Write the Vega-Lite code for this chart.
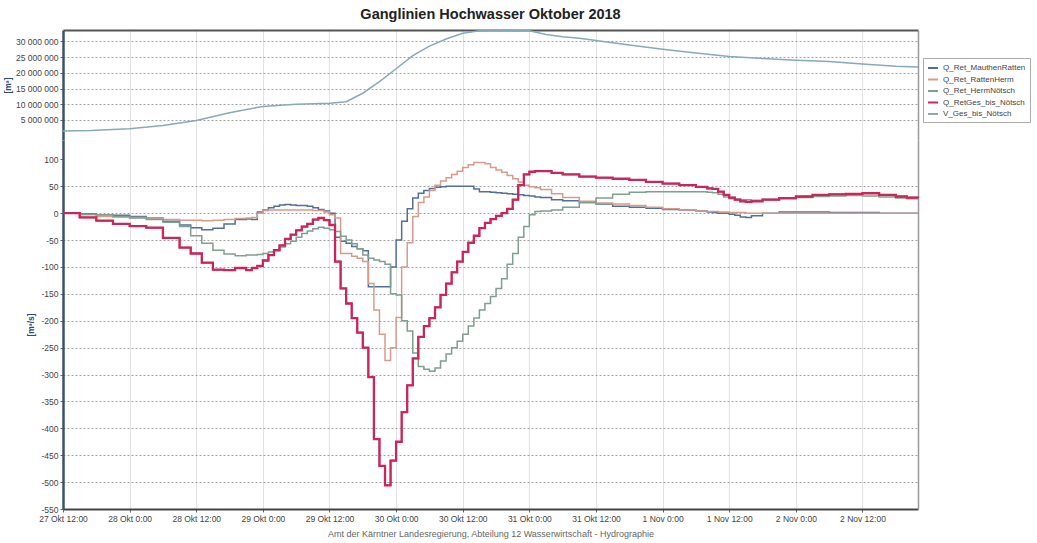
{
"$schema": "https://vega.github.io/schema/vega-lite/v6.json",
"background": "white",
"padding": {"left": 3, "top": 6, "right": 0, "bottom": 0},
"title": {"text": "Ganglinien Hochwasser Oktober 2018", "fontSize": 14.5, "font": "Liberation Sans", "fontWeight": "bold", "color": "#222", "anchor": "middle", "frame": "group", "offset": 5},
"datasets": {
"vol": [
{"s":"V_Ges_bis_Nötsch","t":"2018-10-27T12:00:00Z","v":1500000},
{"s":"V_Ges_bis_Nötsch","t":"2018-10-27T17:00:00Z","v":1600000},
{"s":"V_Ges_bis_Nötsch","t":"2018-10-28T00:00:00Z","v":2200000},
{"s":"V_Ges_bis_Nötsch","t":"2018-10-28T06:00:00Z","v":3200000},
{"s":"V_Ges_bis_Nötsch","t":"2018-10-28T12:00:00Z","v":4800000},
{"s":"V_Ges_bis_Nötsch","t":"2018-10-28T18:00:00Z","v":7300000},
{"s":"V_Ges_bis_Nötsch","t":"2018-10-29T00:00:00Z","v":9300000},
{"s":"V_Ges_bis_Nötsch","t":"2018-10-29T06:00:00Z","v":10000000},
{"s":"V_Ges_bis_Nötsch","t":"2018-10-29T12:00:00Z","v":10300000},
{"s":"V_Ges_bis_Nötsch","t":"2018-10-29T15:00:00Z","v":10800000},
{"s":"V_Ges_bis_Nötsch","t":"2018-10-29T18:00:00Z","v":13500000},
{"s":"V_Ges_bis_Nötsch","t":"2018-10-29T21:00:00Z","v":17200000},
{"s":"V_Ges_bis_Nötsch","t":"2018-10-30T00:00:00Z","v":21300000},
{"s":"V_Ges_bis_Nötsch","t":"2018-10-30T03:00:00Z","v":25500000},
{"s":"V_Ges_bis_Nötsch","t":"2018-10-30T06:00:00Z","v":28500000},
{"s":"V_Ges_bis_Nötsch","t":"2018-10-30T09:00:00Z","v":30800000},
{"s":"V_Ges_bis_Nötsch","t":"2018-10-30T12:00:00Z","v":32600000},
{"s":"V_Ges_bis_Nötsch","t":"2018-10-30T15:00:00Z","v":33400000},
{"s":"V_Ges_bis_Nötsch","t":"2018-10-30T18:00:00Z","v":33550000},
{"s":"V_Ges_bis_Nötsch","t":"2018-10-31T00:00:00Z","v":33400000},
{"s":"V_Ges_bis_Nötsch","t":"2018-10-31T03:00:00Z","v":32200000},
{"s":"V_Ges_bis_Nötsch","t":"2018-10-31T06:00:00Z","v":31500000},
{"s":"V_Ges_bis_Nötsch","t":"2018-10-31T09:00:00Z","v":31000000},
{"s":"V_Ges_bis_Nötsch","t":"2018-10-31T12:00:00Z","v":30300000},
{"s":"V_Ges_bis_Nötsch","t":"2018-10-31T18:00:00Z","v":28900000},
{"s":"V_Ges_bis_Nötsch","t":"2018-11-01T00:00:00Z","v":27500000},
{"s":"V_Ges_bis_Nötsch","t":"2018-11-01T06:00:00Z","v":26300000},
{"s":"V_Ges_bis_Nötsch","t":"2018-11-01T12:00:00Z","v":25200000},
{"s":"V_Ges_bis_Nötsch","t":"2018-11-01T18:00:00Z","v":24600000},
{"s":"V_Ges_bis_Nötsch","t":"2018-11-02T00:00:00Z","v":24000000},
{"s":"V_Ges_bis_Nötsch","t":"2018-11-02T06:00:00Z","v":23600000},
{"s":"V_Ges_bis_Nötsch","t":"2018-11-02T12:00:00Z","v":22800000},
{"s":"V_Ges_bis_Nötsch","t":"2018-11-02T18:00:00Z","v":22100000},
{"s":"V_Ges_bis_Nötsch","t":"2018-11-02T22:00:00Z","v":21900000}
],
"flow": [
{"t":"2018-10-27T12:00:00Z","Q_Ret_MauthenRatten":0,"Q_Ret_RattenHerm":0,"Q_Ret_HermNötsch":0,"Q_RetGes_bis_Nötsch":0},
{"t":"2018-10-27T15:00:00Z","Q_Ret_MauthenRatten":-1,"Q_Ret_RattenHerm":-3,"Q_Ret_HermNötsch":-2,"Q_RetGes_bis_Nötsch":-8},
{"t":"2018-10-27T18:00:00Z","Q_Ret_MauthenRatten":-3,"Q_Ret_RattenHerm":-6,"Q_Ret_HermNötsch":-3,"Q_RetGes_bis_Nötsch":-14},
{"t":"2018-10-27T21:00:00Z","Q_Ret_MauthenRatten":-4,"Q_Ret_RattenHerm":-7,"Q_Ret_HermNötsch":-6,"Q_RetGes_bis_Nötsch":-20},
{"t":"2018-10-28T00:00:00Z","Q_Ret_MauthenRatten":-6,"Q_Ret_RattenHerm":-8,"Q_Ret_HermNötsch":-9,"Q_RetGes_bis_Nötsch":-24},
{"t":"2018-10-28T03:00:00Z","Q_Ret_MauthenRatten":-9,"Q_Ret_RattenHerm":-9,"Q_Ret_HermNötsch":-12,"Q_RetGes_bis_Nötsch":-27},
{"t":"2018-10-28T06:00:00Z","Q_Ret_MauthenRatten":-15,"Q_Ret_RattenHerm":-12,"Q_Ret_HermNötsch":-17,"Q_RetGes_bis_Nötsch":-46},
{"t":"2018-10-28T09:00:00Z","Q_Ret_MauthenRatten":-22,"Q_Ret_RattenHerm":-13,"Q_Ret_HermNötsch":-25,"Q_RetGes_bis_Nötsch":-64},
{"t":"2018-10-28T11:00:00Z","Q_Ret_MauthenRatten":-27,"Q_Ret_RattenHerm":-13,"Q_Ret_HermNötsch":-42,"Q_RetGes_bis_Nötsch":-75},
{"t":"2018-10-28T13:00:00Z","Q_Ret_MauthenRatten":-31,"Q_Ret_RattenHerm":-14,"Q_Ret_HermNötsch":-56,"Q_RetGes_bis_Nötsch":-92},
{"t":"2018-10-28T15:00:00Z","Q_Ret_MauthenRatten":-28,"Q_Ret_RattenHerm":-13,"Q_Ret_HermNötsch":-69,"Q_RetGes_bis_Nötsch":-105},
{"t":"2018-10-28T17:00:00Z","Q_Ret_MauthenRatten":-20,"Q_Ret_RattenHerm":-12,"Q_Ret_HermNötsch":-76,"Q_RetGes_bis_Nötsch":-106},
{"t":"2018-10-28T19:00:00Z","Q_Ret_MauthenRatten":-12,"Q_Ret_RattenHerm":-10,"Q_Ret_HermNötsch":-79,"Q_RetGes_bis_Nötsch":-102},
{"t":"2018-10-28T21:00:00Z","Q_Ret_MauthenRatten":-11,"Q_Ret_RattenHerm":-9,"Q_Ret_HermNötsch":-78,"Q_RetGes_bis_Nötsch":-106},
{"t":"2018-10-28T22:00:00Z","Q_Ret_MauthenRatten":-12,"Q_Ret_RattenHerm":-8,"Q_Ret_HermNötsch":-78,"Q_RetGes_bis_Nötsch":-102},
{"t":"2018-10-28T23:00:00Z","Q_Ret_MauthenRatten":2,"Q_Ret_RattenHerm":0,"Q_Ret_HermNötsch":-77,"Q_RetGes_bis_Nötsch":-98},
{"t":"2018-10-29T00:00:00Z","Q_Ret_MauthenRatten":6,"Q_Ret_RattenHerm":5,"Q_Ret_HermNötsch":-75,"Q_RetGes_bis_Nötsch":-88},
{"t":"2018-10-29T01:00:00Z","Q_Ret_MauthenRatten":10,"Q_Ret_RattenHerm":6,"Q_Ret_HermNötsch":-72,"Q_RetGes_bis_Nötsch":-78},
{"t":"2018-10-29T02:00:00Z","Q_Ret_MauthenRatten":13,"Q_Ret_RattenHerm":6,"Q_Ret_HermNötsch":-69,"Q_RetGes_bis_Nötsch":-69},
{"t":"2018-10-29T03:00:00Z","Q_Ret_MauthenRatten":15,"Q_Ret_RattenHerm":6,"Q_Ret_HermNötsch":-63,"Q_RetGes_bis_Nötsch":-60},
{"t":"2018-10-29T04:00:00Z","Q_Ret_MauthenRatten":16,"Q_Ret_RattenHerm":6,"Q_Ret_HermNötsch":-57,"Q_RetGes_bis_Nötsch":-48},
{"t":"2018-10-29T05:00:00Z","Q_Ret_MauthenRatten":15,"Q_Ret_RattenHerm":6,"Q_Ret_HermNötsch":-52,"Q_RetGes_bis_Nötsch":-40},
{"t":"2018-10-29T06:00:00Z","Q_Ret_MauthenRatten":14,"Q_Ret_RattenHerm":6,"Q_Ret_HermNötsch":-45,"Q_RetGes_bis_Nötsch":-32},
{"t":"2018-10-29T07:00:00Z","Q_Ret_MauthenRatten":14,"Q_Ret_RattenHerm":6,"Q_Ret_HermNötsch":-38,"Q_RetGes_bis_Nötsch":-25},
{"t":"2018-10-29T08:00:00Z","Q_Ret_MauthenRatten":13,"Q_Ret_RattenHerm":6,"Q_Ret_HermNötsch":-33,"Q_RetGes_bis_Nötsch":-20},
{"t":"2018-10-29T09:00:00Z","Q_Ret_MauthenRatten":10,"Q_Ret_RattenHerm":5,"Q_Ret_HermNötsch":-29,"Q_RetGes_bis_Nötsch":-12},
{"t":"2018-10-29T10:00:00Z","Q_Ret_MauthenRatten":7,"Q_Ret_RattenHerm":5,"Q_Ret_HermNötsch":-26,"Q_RetGes_bis_Nötsch":-9},
{"t":"2018-10-29T11:00:00Z","Q_Ret_MauthenRatten":4,"Q_Ret_RattenHerm":2,"Q_Ret_HermNötsch":-28,"Q_RetGes_bis_Nötsch":-13},
{"t":"2018-10-29T12:00:00Z","Q_Ret_MauthenRatten":0,"Q_Ret_RattenHerm":-3,"Q_Ret_HermNötsch":-31,"Q_RetGes_bis_Nötsch":-22},
{"t":"2018-10-29T13:00:00Z","Q_Ret_MauthenRatten":-45,"Q_Ret_RattenHerm":-9,"Q_Ret_HermNötsch":-34,"Q_RetGes_bis_Nötsch":-90},
{"t":"2018-10-29T14:00:00Z","Q_Ret_MauthenRatten":-52,"Q_Ret_RattenHerm":-75,"Q_Ret_HermNötsch":-43,"Q_RetGes_bis_Nötsch":-140},
{"t":"2018-10-29T15:00:00Z","Q_Ret_MauthenRatten":-56,"Q_Ret_RattenHerm":-75,"Q_Ret_HermNötsch":-50,"Q_RetGes_bis_Nötsch":-168},
{"t":"2018-10-29T16:00:00Z","Q_Ret_MauthenRatten":-62,"Q_Ret_RattenHerm":-80,"Q_Ret_HermNötsch":-57,"Q_RetGes_bis_Nötsch":-195},
{"t":"2018-10-29T17:00:00Z","Q_Ret_MauthenRatten":-66,"Q_Ret_RattenHerm":-84,"Q_Ret_HermNötsch":-66,"Q_RetGes_bis_Nötsch":-222},
{"t":"2018-10-29T18:00:00Z","Q_Ret_MauthenRatten":-70,"Q_Ret_RattenHerm":-90,"Q_Ret_HermNötsch":-78,"Q_RetGes_bis_Nötsch":-250},
{"t":"2018-10-29T19:00:00Z","Q_Ret_MauthenRatten":-137,"Q_Ret_RattenHerm":-131,"Q_Ret_HermNötsch":-84,"Q_RetGes_bis_Nötsch":-305},
{"t":"2018-10-29T20:00:00Z","Q_Ret_MauthenRatten":-137,"Q_Ret_RattenHerm":-180,"Q_Ret_HermNötsch":-87,"Q_RetGes_bis_Nötsch":-420},
{"t":"2018-10-29T21:00:00Z","Q_Ret_MauthenRatten":-137,"Q_Ret_RattenHerm":-225,"Q_Ret_HermNötsch":-90,"Q_RetGes_bis_Nötsch":-470},
{"t":"2018-10-29T22:00:00Z","Q_Ret_MauthenRatten":-137,"Q_Ret_RattenHerm":-274,"Q_Ret_HermNötsch":-95,"Q_RetGes_bis_Nötsch":-506},
{"t":"2018-10-29T23:00:00Z","Q_Ret_MauthenRatten":-100,"Q_Ret_RattenHerm":-250,"Q_Ret_HermNötsch":-150,"Q_RetGes_bis_Nötsch":-460},
{"t":"2018-10-30T00:00:00Z","Q_Ret_MauthenRatten":-50,"Q_Ret_RattenHerm":-194,"Q_Ret_HermNötsch":-152,"Q_RetGes_bis_Nötsch":-425},
{"t":"2018-10-30T01:00:00Z","Q_Ret_MauthenRatten":-15,"Q_Ret_RattenHerm":-100,"Q_Ret_HermNötsch":-200,"Q_RetGes_bis_Nötsch":-370},
{"t":"2018-10-30T02:00:00Z","Q_Ret_MauthenRatten":8,"Q_Ret_RattenHerm":-55,"Q_Ret_HermNötsch":-219,"Q_RetGes_bis_Nötsch":-320},
{"t":"2018-10-30T03:00:00Z","Q_Ret_MauthenRatten":28,"Q_Ret_RattenHerm":-6,"Q_Ret_HermNötsch":-260,"Q_RetGes_bis_Nötsch":-270},
{"t":"2018-10-30T04:00:00Z","Q_Ret_MauthenRatten":37,"Q_Ret_RattenHerm":20,"Q_Ret_HermNötsch":-285,"Q_RetGes_bis_Nötsch":-230},
{"t":"2018-10-30T05:00:00Z","Q_Ret_MauthenRatten":42,"Q_Ret_RattenHerm":30,"Q_Ret_HermNötsch":-290,"Q_RetGes_bis_Nötsch":-210},
{"t":"2018-10-30T06:00:00Z","Q_Ret_MauthenRatten":46,"Q_Ret_RattenHerm":42,"Q_Ret_HermNötsch":-294,"Q_RetGes_bis_Nötsch":-195},
{"t":"2018-10-30T07:00:00Z","Q_Ret_MauthenRatten":48,"Q_Ret_RattenHerm":52,"Q_Ret_HermNötsch":-288,"Q_RetGes_bis_Nötsch":-175},
{"t":"2018-10-30T08:00:00Z","Q_Ret_MauthenRatten":49,"Q_Ret_RattenHerm":60,"Q_Ret_HermNötsch":-275,"Q_RetGes_bis_Nötsch":-152},
{"t":"2018-10-30T09:00:00Z","Q_Ret_MauthenRatten":50,"Q_Ret_RattenHerm":66,"Q_Ret_HermNötsch":-262,"Q_RetGes_bis_Nötsch":-131},
{"t":"2018-10-30T10:00:00Z","Q_Ret_MauthenRatten":50,"Q_Ret_RattenHerm":72,"Q_Ret_HermNötsch":-250,"Q_RetGes_bis_Nötsch":-110},
{"t":"2018-10-30T11:00:00Z","Q_Ret_MauthenRatten":50,"Q_Ret_RattenHerm":78,"Q_Ret_HermNötsch":-238,"Q_RetGes_bis_Nötsch":-90},
{"t":"2018-10-30T12:00:00Z","Q_Ret_MauthenRatten":50,"Q_Ret_RattenHerm":85,"Q_Ret_HermNötsch":-225,"Q_RetGes_bis_Nötsch":-72},
{"t":"2018-10-30T13:00:00Z","Q_Ret_MauthenRatten":50,"Q_Ret_RattenHerm":90,"Q_Ret_HermNötsch":-210,"Q_RetGes_bis_Nötsch":-55},
{"t":"2018-10-30T14:00:00Z","Q_Ret_MauthenRatten":45,"Q_Ret_RattenHerm":94,"Q_Ret_HermNötsch":-195,"Q_RetGes_bis_Nötsch":-42},
{"t":"2018-10-30T15:00:00Z","Q_Ret_MauthenRatten":40,"Q_Ret_RattenHerm":94,"Q_Ret_HermNötsch":-180,"Q_RetGes_bis_Nötsch":-28},
{"t":"2018-10-30T16:00:00Z","Q_Ret_MauthenRatten":40,"Q_Ret_RattenHerm":92,"Q_Ret_HermNötsch":-168,"Q_RetGes_bis_Nötsch":-18},
{"t":"2018-10-30T17:00:00Z","Q_Ret_MauthenRatten":39,"Q_Ret_RattenHerm":85,"Q_Ret_HermNötsch":-155,"Q_RetGes_bis_Nötsch":-11},
{"t":"2018-10-30T18:00:00Z","Q_Ret_MauthenRatten":38,"Q_Ret_RattenHerm":80,"Q_Ret_HermNötsch":-140,"Q_RetGes_bis_Nötsch":-5},
{"t":"2018-10-30T19:00:00Z","Q_Ret_MauthenRatten":37,"Q_Ret_RattenHerm":76,"Q_Ret_HermNötsch":-122,"Q_RetGes_bis_Nötsch":0},
{"t":"2018-10-30T20:00:00Z","Q_Ret_MauthenRatten":36,"Q_Ret_RattenHerm":70,"Q_Ret_HermNötsch":-95,"Q_RetGes_bis_Nötsch":8},
{"t":"2018-10-30T21:00:00Z","Q_Ret_MauthenRatten":35,"Q_Ret_RattenHerm":64,"Q_Ret_HermNötsch":-75,"Q_RetGes_bis_Nötsch":25},
{"t":"2018-10-30T22:00:00Z","Q_Ret_MauthenRatten":34,"Q_Ret_RattenHerm":58,"Q_Ret_HermNötsch":-45,"Q_RetGes_bis_Nötsch":52},
{"t":"2018-10-30T23:00:00Z","Q_Ret_MauthenRatten":33,"Q_Ret_RattenHerm":52,"Q_Ret_HermNötsch":-25,"Q_RetGes_bis_Nötsch":72},
{"t":"2018-10-31T00:00:00Z","Q_Ret_MauthenRatten":32,"Q_Ret_RattenHerm":49,"Q_Ret_HermNötsch":-3,"Q_RetGes_bis_Nötsch":77},
{"t":"2018-10-31T01:00:00Z","Q_Ret_MauthenRatten":30,"Q_Ret_RattenHerm":47,"Q_Ret_HermNötsch":3,"Q_RetGes_bis_Nötsch":78},
{"t":"2018-10-31T02:00:00Z","Q_Ret_MauthenRatten":29,"Q_Ret_RattenHerm":44,"Q_Ret_HermNötsch":4,"Q_RetGes_bis_Nötsch":78},
{"t":"2018-10-31T04:00:00Z","Q_Ret_MauthenRatten":25,"Q_Ret_RattenHerm":36,"Q_Ret_HermNötsch":6,"Q_RetGes_bis_Nötsch":75},
{"t":"2018-10-31T06:00:00Z","Q_Ret_MauthenRatten":23,"Q_Ret_RattenHerm":29,"Q_Ret_HermNötsch":11,"Q_RetGes_bis_Nötsch":72},
{"t":"2018-10-31T09:00:00Z","Q_Ret_MauthenRatten":20,"Q_Ret_RattenHerm":22,"Q_Ret_HermNötsch":20,"Q_RetGes_bis_Nötsch":68},
{"t":"2018-10-31T12:00:00Z","Q_Ret_MauthenRatten":17,"Q_Ret_RattenHerm":19,"Q_Ret_HermNötsch":28,"Q_RetGes_bis_Nötsch":66},
{"t":"2018-10-31T15:00:00Z","Q_Ret_MauthenRatten":13,"Q_Ret_RattenHerm":17,"Q_Ret_HermNötsch":35,"Q_RetGes_bis_Nötsch":64},
{"t":"2018-10-31T18:00:00Z","Q_Ret_MauthenRatten":11,"Q_Ret_RattenHerm":14,"Q_Ret_HermNötsch":39,"Q_RetGes_bis_Nötsch":62},
{"t":"2018-10-31T21:00:00Z","Q_Ret_MauthenRatten":9,"Q_Ret_RattenHerm":11,"Q_Ret_HermNötsch":40,"Q_RetGes_bis_Nötsch":58},
{"t":"2018-11-01T00:00:00Z","Q_Ret_MauthenRatten":7,"Q_Ret_RattenHerm":8,"Q_Ret_HermNötsch":40,"Q_RetGes_bis_Nötsch":55},
{"t":"2018-11-01T03:00:00Z","Q_Ret_MauthenRatten":6,"Q_Ret_RattenHerm":6,"Q_Ret_HermNötsch":40,"Q_RetGes_bis_Nötsch":52},
{"t":"2018-11-01T06:00:00Z","Q_Ret_MauthenRatten":4,"Q_Ret_RattenHerm":4,"Q_Ret_HermNötsch":40,"Q_RetGes_bis_Nötsch":49},
{"t":"2018-11-01T08:00:00Z","Q_Ret_MauthenRatten":2,"Q_Ret_RattenHerm":3,"Q_Ret_HermNötsch":39,"Q_RetGes_bis_Nötsch":46},
{"t":"2018-11-01T09:00:00Z","Q_Ret_MauthenRatten":1,"Q_Ret_RattenHerm":3,"Q_Ret_HermNötsch":38,"Q_RetGes_bis_Nötsch":45},
{"t":"2018-11-01T10:00:00Z","Q_Ret_MauthenRatten":0,"Q_Ret_RattenHerm":2,"Q_Ret_HermNötsch":35,"Q_RetGes_bis_Nötsch":40},
{"t":"2018-11-01T11:00:00Z","Q_Ret_MauthenRatten":0,"Q_Ret_RattenHerm":2,"Q_Ret_HermNötsch":30,"Q_RetGes_bis_Nötsch":34},
{"t":"2018-11-01T12:00:00Z","Q_Ret_MauthenRatten":-2,"Q_Ret_RattenHerm":1,"Q_Ret_HermNötsch":27,"Q_RetGes_bis_Nötsch":29},
{"t":"2018-11-01T13:00:00Z","Q_Ret_MauthenRatten":-4,"Q_Ret_RattenHerm":1,"Q_Ret_HermNötsch":26,"Q_RetGes_bis_Nötsch":25},
{"t":"2018-11-01T14:00:00Z","Q_Ret_MauthenRatten":-7,"Q_Ret_RattenHerm":1,"Q_Ret_HermNötsch":25,"Q_RetGes_bis_Nötsch":22},
{"t":"2018-11-01T15:00:00Z","Q_Ret_MauthenRatten":-8,"Q_Ret_RattenHerm":0,"Q_Ret_HermNötsch":25,"Q_RetGes_bis_Nötsch":21},
{"t":"2018-11-01T16:00:00Z","Q_Ret_MauthenRatten":-5,"Q_Ret_RattenHerm":0,"Q_Ret_HermNötsch":24,"Q_RetGes_bis_Nötsch":22},
{"t":"2018-11-01T18:00:00Z","Q_Ret_MauthenRatten":0,"Q_Ret_RattenHerm":0,"Q_Ret_HermNötsch":26,"Q_RetGes_bis_Nötsch":25},
{"t":"2018-11-01T21:00:00Z","Q_Ret_MauthenRatten":2,"Q_Ret_RattenHerm":0,"Q_Ret_HermNötsch":27,"Q_RetGes_bis_Nötsch":28},
{"t":"2018-11-02T00:00:00Z","Q_Ret_MauthenRatten":2,"Q_Ret_RattenHerm":0,"Q_Ret_HermNötsch":29,"Q_RetGes_bis_Nötsch":31},
{"t":"2018-11-02T03:00:00Z","Q_Ret_MauthenRatten":2,"Q_Ret_RattenHerm":0,"Q_Ret_HermNötsch":31,"Q_RetGes_bis_Nötsch":34},
{"t":"2018-11-02T06:00:00Z","Q_Ret_MauthenRatten":1,"Q_Ret_RattenHerm":0,"Q_Ret_HermNötsch":32,"Q_RetGes_bis_Nötsch":35},
{"t":"2018-11-02T09:00:00Z","Q_Ret_MauthenRatten":1,"Q_Ret_RattenHerm":0,"Q_Ret_HermNötsch":33,"Q_RetGes_bis_Nötsch":36},
{"t":"2018-11-02T12:00:00Z","Q_Ret_MauthenRatten":1,"Q_Ret_RattenHerm":0,"Q_Ret_HermNötsch":32,"Q_RetGes_bis_Nötsch":37},
{"t":"2018-11-02T15:00:00Z","Q_Ret_MauthenRatten":0,"Q_Ret_RattenHerm":0,"Q_Ret_HermNötsch":30,"Q_RetGes_bis_Nötsch":34},
{"t":"2018-11-02T18:00:00Z","Q_Ret_MauthenRatten":0,"Q_Ret_RattenHerm":0,"Q_Ret_HermNötsch":28,"Q_RetGes_bis_Nötsch":31},
{"t":"2018-11-02T20:00:00Z","Q_Ret_MauthenRatten":0,"Q_Ret_RattenHerm":0,"Q_Ret_HermNötsch":27,"Q_RetGes_bis_Nötsch":29},
{"t":"2018-11-02T22:00:00Z","Q_Ret_MauthenRatten":0,"Q_Ret_RattenHerm":0,"Q_Ret_HermNötsch":26,"Q_RetGes_bis_Nötsch":28}
]
},
"vconcat": [
{
"width": 855, "height": 110,
"data": {"name": "vol"},
"layer": [
{
"mark": {"type": "line", "strokeWidth": 1.5},
"encoding": {
"x": {"field": "t", "type": "temporal", "scale": {"type": "utc", "domain": ["2018-10-27T12:00:00Z", "2018-11-02T22:00:00Z"]}, "axis": {"orient": "top", "labels": false, "ticks": false, "title": null, "domain": true, "domainColor": "#555", "domainWidth": 2, "grid": true, "tickCount": 13}},
"y": {"field": "v", "type": "quantitative", "scale": {"domain": [-1400000, 33650000], "nice": false, "zero": false}, "axis": {"values": [5000000, 10000000, 15000000, 20000000, 25000000, 30000000], "labelExpr": "replace(format(datum.value, ','), /,/g, ' ')", "title": "[m³]", "titlePadding": 3}},
"color": {"field": "s", "type": "nominal", "scale": {"domain": ["Q_Ret_MauthenRatten", "Q_Ret_RattenHerm", "Q_Ret_HermNötsch", "Q_RetGes_bis_Nötsch", "V_Ges_bis_Nötsch"], "range": ["#50709a", "#d79b8c", "#7f9f8f", "#c9265a", "#86aab8"]}, "legend": {"title": null, "orient": "none", "legendX": 860, "legendY": 28}}
}
},
{
"mark": {"type": "line", "opacity": 0},
"encoding": {
"x": {"field": "t", "type": "temporal", "scale": {"type": "utc", "domain": ["2018-10-27T12:00:00Z", "2018-11-02T22:00:00Z"]}},
"y": {"field": "v", "type": "quantitative", "scale": {"domain": [-1400000, 33650000], "nice": false, "zero": false}, "axis": {"orient": "right", "labels": false, "ticks": false, "grid": false, "title": null, "domainColor": "#999", "domainWidth": 1.5}}
}
}
],
"resolve": {"axis": {"y": "independent"}}
},
{
"width": 855, "height": 369,
"data": {"name": "flow"},
"transform": [{"fold": ["Q_Ret_MauthenRatten", "Q_Ret_RattenHerm", "Q_Ret_HermNötsch", "Q_RetGes_bis_Nötsch"], "as": ["s", "q"]}],
"layer": [
{
"mark": {"type": "line", "interpolate": "step-after", "strokeWidth": 1.5},
"encoding": {
"x": {"field": "t", "type": "temporal", "scale": {"type": "utc", "domain": ["2018-10-27T12:00:00Z", "2018-11-02T22:00:00Z"]}, "axis": {"orient": "bottom", "tickCount": 13, "labelExpr": "utcdate(datum.value) + (utcmonth(datum.value) == 9 ? ' Okt ' : ' Nov ') + utchours(datum.value) + ':00'", "labelOverlap": false, "labelFlush": false, "grid": true, "domainColor": "#444", "domainWidth": 2, "title": "Amt der Kärntner Landesregierung, Abteilung 12 Wasserwirtschaft - Hydrographie", "titleFontSize": 9, "titleFontWeight": "normal", "titleColor": "#666", "titlePadding": 7}},
"y": {"field": "q", "type": "quantitative", "scale": {"domain": [-550, 136], "nice": false, "zero": false}, "axis": {"values": [-550, -500, -450, -400, -350, -300, -250, -200, -150, -100, -50, 0, 50, 100], "labelExpr": "replace(format(datum.value, 'd'), '−', '-')", "title": "[m³/s]", "titlePadding": 5, "gridOpacity": {"condition": {"test": "datum.value == 100", "value": 0}, "value": 1}}},
"color": {"field": "s", "type": "nominal", "scale": {"domain": ["Q_Ret_MauthenRatten", "Q_Ret_RattenHerm", "Q_Ret_HermNötsch", "Q_RetGes_bis_Nötsch", "V_Ges_bis_Nötsch"], "range": ["#50709a", "#d79b8c", "#7f9f8f", "#c9265a", "#86aab8"]}, "legend": {"title": null, "orient": "none", "legendX": 860, "legendY": 28}}
}
},
{
"transform": [{"filter": "datum.s == 'Q_RetGes_bis_Nötsch'"}],
"mark": {"type": "line", "interpolate": "step-after", "strokeWidth": 2.3, "color": "#c9265a"},
"encoding": {
"x": {"field": "t", "type": "temporal", "scale": {"type": "utc", "domain": ["2018-10-27T12:00:00Z", "2018-11-02T22:00:00Z"]}},
"y": {"field": "q", "type": "quantitative", "scale": {"domain": [-550, 136], "nice": false, "zero": false}, "axis": null}
}
},
{
"mark": {"type": "line", "opacity": 0},
"encoding": {
"x": {"field": "t", "type": "temporal", "scale": {"type": "utc", "domain": ["2018-10-27T12:00:00Z", "2018-11-02T22:00:00Z"]}},
"y": {"field": "q", "type": "quantitative", "scale": {"domain": [-550, 136], "nice": false, "zero": false}, "axis": {"orient": "right", "labels": false, "ticks": false, "grid": false, "title": null, "domainColor": "#999", "domainWidth": 1.5}},
"detail": {"field": "s"}
}
}
],
"resolve": {"axis": {"y": "independent"}}
}
],
"spacing": 0,
"resolve": {"scale": {"color": "shared"}},
"config": {
"view": {"stroke": null},
"font": "Liberation Sans",
"axis": {"labelFont": "Liberation Sans", "labelFontSize": 8.5, "labelColor": "#444", "titleFont": "Liberation Sans", "tickColor": "#666", "tickSize": 3, "labelPadding": 2},
"axisX": {"gridColor": "#e2e2e2", "gridWidth": 1},
"axisY": {"gridDash": [2, 2], "gridColor": "#8a8a8a", "gridWidth": 0.8, "domainColor": "#3a5070", "domainWidth": 2.5, "titleColor": "#2a4a7a", "titleFontSize": 8.5, "titleFontWeight": "bold"},
"legend": {"labelFont": "Liberation Sans", "labelFontSize": 8, "labelColor": "#444", "symbolType": "stroke", "symbolStrokeWidth": 2, "symbolSize": 100, "padding": 4, "strokeColor": "#aaa", "fillColor": "white", "rowPadding": 1.5, "labelLimit": 200}
}
}
